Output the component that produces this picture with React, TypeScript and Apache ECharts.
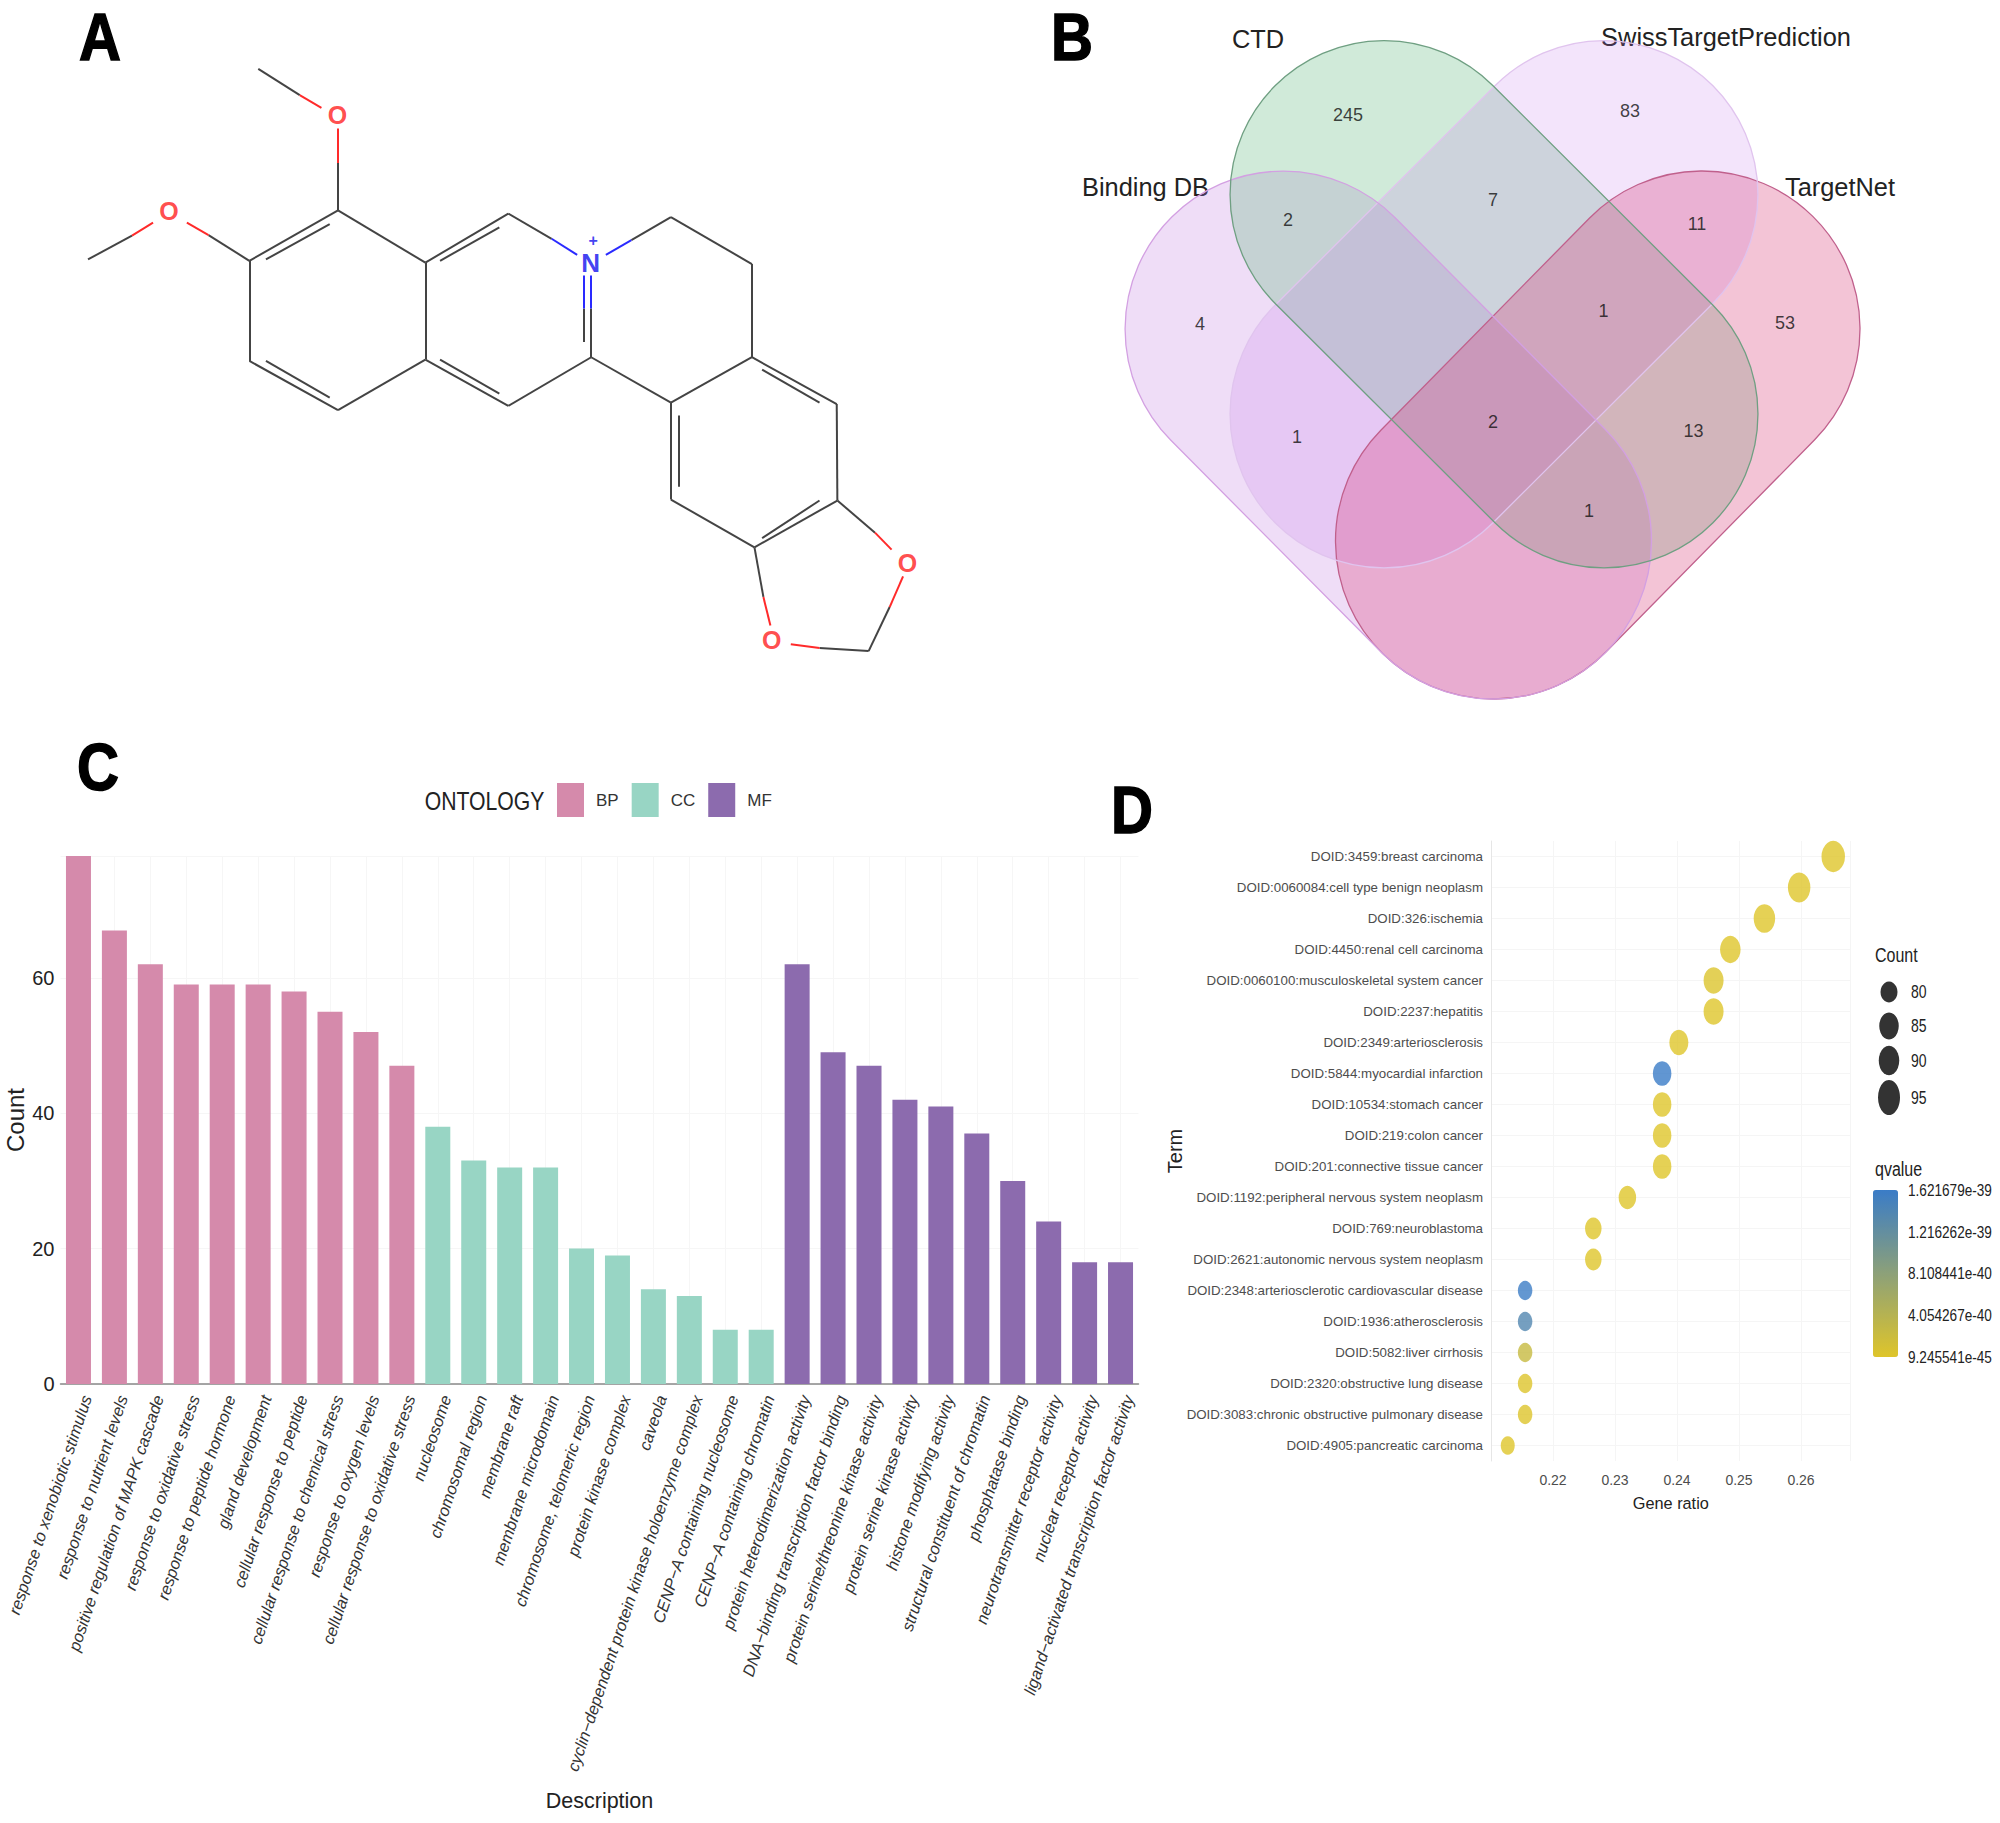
import React, { useEffect, useRef } from "react";
import * as echarts from "echarts";

// ---------- Panel C ----------
const goTerms = [
  "response to xenobiotic stimulus", "response to nutrient levels", "positive regulation of MAPK cascade",
  "response to oxidative stress", "response to peptide hormone", "gland development",
  "cellular response to peptide", "cellular response to chemical stress", "response to oxygen levels",
  "cellular response to oxidative stress", "nucleosome", "chromosomal region", "membrane raft",
  "membrane microdomain", "chromosome, telomeric region", "protein kinase complex", "caveola",
  "cyclin−dependent protein kinase holoenzyme complex", "CENP−A containing nucleosome",
  "CENP−A containing chromatin", "protein heterodimerization activity", "DNA−binding transcription factor binding",
  "protein serine/threonine kinase activity", "protein serine kinase activity", "histone modifying activity",
  "structural constituent of chromatin", "phosphatase binding", "neurotransmitter receptor activity",
  "nuclear receptor activity", "ligand−activated transcription factor activity",
];
const bpCounts = [78, 67, 62, 59, 59, 59, 58, 55, 52, 47];
const ccCounts = [38, 33, 32, 32, 20, 19, 14, 13, 8, 8];
const mfCounts = [62, 49, 47, 42, 41, 37, 30, 24, 18, 18];
const ontologyNames = ["BP", "CC", "MF"];
const ontologyColors = ["#d58aab", "#98d5c4", "#8c6bae"];

// ---------- Panel D ----------
const doidTerms = [
  "DOID:3459:breast carcinoma", "DOID:0060084:cell type benign neoplasm", "DOID:326:ischemia",
  "DOID:4450:renal cell carcinoma", "DOID:0060100:musculoskeletal system cancer", "DOID:2237:hepatitis",
  "DOID:2349:arteriosclerosis", "DOID:5844:myocardial infarction", "DOID:10534:stomach cancer",
  "DOID:219:colon cancer", "DOID:201:connective tissue cancer", "DOID:1192:peripheral nervous system neoplasm",
  "DOID:769:neuroblastoma", "DOID:2621:autonomic nervous system neoplasm",
  "DOID:2348:arteriosclerotic cardiovascular disease", "DOID:1936:atherosclerosis", "DOID:5082:liver cirrhosis",
  "DOID:2320:obstructive lung disease", "DOID:3083:chronic obstructive pulmonary disease", "DOID:4905:pancreatic carcinoma",
];
const doidRatio = [0.2652, 0.2597, 0.2541, 0.2486, 0.2459, 0.2459, 0.2403, 0.2376, 0.2376, 0.2376, 0.2376, 0.232, 0.2265, 0.2265, 0.2155, 0.2155, 0.2155, 0.2155, 0.2155, 0.2127];
const doidCount = [96, 94, 92, 90, 89, 89, 87, 86, 86, 86, 86, 84, 82, 82, 78, 78, 78, 78, 78, 77];
const doidQ = [1e-44, 1e-44, 1e-44, 1e-44, 3e-41, 1e-44, 1e-44, 1.62e-39, 1e-44, 1e-44, 1e-44, 1e-44, 1e-44, 1e-44, 1.6e-39, 1.38e-39, 2.4e-40, 2e-41, 2e-41, 1e-44];
const countLegendValues = [80, 85, 90, 95];
const countLegendY = [992, 1026, 1060.6, 1097.5];
const countLegendSizes = [[17, 21], [19.5, 27], [20.5, 29.5], [22, 35]];
const qvalueTicks = ["1.621679e-39", "1.216262e-39", "8.108441e-40", "4.054267e-40", "9.245541e-45"];
const qvalueTickY = [1190, 1232, 1273, 1315, 1357];

// ---------- Panel B ----------
const vennSets = ["Binding DB", "CTD", "SwissTargetPrediction", "TargetNet"];
const vennLabelPos = [[1145.5, 187], [1258, 39], [1726, 37], [1840, 187]];
const vennCapsules = [[1283, 329, 1493.5, 541, 158], [1384, 194.5, 1604, 414, 154], [1604, 194.5, 1384, 414, 154], [1702, 329, 1493.5, 541, 158]];
const vennFill = ["rgba(190,120,225,0.25)", "rgba(100,185,130,0.3)", "rgba(195,120,235,0.2)", "rgba(215,60,120,0.3)"];
const vennStroke = ["#d3a0e2", "#6f9f82", "#e0c4ee", "#c0608c"];
const vennStrokeOrder = [3, 2, 0, 1];
const vennCounts = [245, 83, 7, 2, 11, 4, 1, 53, 1, 2, 13, 1];
const vennCountPos = [[1348, 115], [1630, 111], [1493, 200], [1288, 220], [1697, 223.5], [1200, 324], [1603.5, 311], [1785, 323], [1297, 437], [1493, 422], [1693.5, 431], [1589, 511]];

// ---------- Panel A ----------
const darkBonds = [
  [405, 150, 470, 207], [530, 355, 530, 458], [138, 565, 207, 513], [327, 512, 391, 568], [530, 458, 391, 568],
  [417, 565, 517, 488], [391, 568, 391, 786], [391, 786, 530, 893], [417, 786, 517, 866], [530, 893, 667, 783],
  [667, 783, 667, 572], [667, 572, 530, 458], [667, 572, 797, 465], [690, 568, 783, 495], [797, 465, 865, 520],
  [667, 783, 797, 884], [690, 783, 783, 857], [797, 884, 927, 778], [915, 672, 915, 745], [927, 672, 927, 778],
  [990, 523, 1052, 473], [1052, 473, 1179, 575], [1179, 575, 1179, 778], [927, 778, 1052, 877], [1052, 877, 1179, 778],
  [1179, 778, 1312, 880], [1195, 805, 1285, 877], [1312, 880, 1313, 1090], [1313, 1090, 1183, 1192], [1285, 1090, 1195, 1172],
  [1183, 1192, 1052, 1088], [1052, 1088, 1052, 877], [1064, 1060, 1064, 905], [1313, 1090, 1372, 1160], [1183, 1192, 1197, 1300],
  [1395, 1322, 1362, 1418], [1285, 1411, 1362, 1418],
];
const redBonds = [
  [470, 207, 504, 235], [530, 280, 530, 355], [207, 513, 240, 485], [293, 485, 327, 512],
  [1372, 1160, 1398, 1197], [1416, 1255, 1395, 1322], [1197, 1300, 1208, 1362], [1240, 1403, 1285, 1411],
];
const blueBonds = [[865, 520, 905, 555], [950, 555, 990, 523], [915, 600, 915, 672], [927, 600, 927, 672]];
const oxygenAtoms = [[529, 250], [265, 460], [1423, 1225], [1210, 1393]];
const nitrogenAtom = [[926, 572]];
const chargeMark = [[930, 524]];

const panelLetters = [["A", 100, 37], ["B", 1072, 37], ["C", 98, 767], ["D", 1132, 810]];
const SANS = "'Liberation Sans', Arial, sans-serif";

const toLines = (rows: number[][]) => rows.map((r) => ({ coords: [[r[0], r[1]], [r[2], r[3]]] }));
const dotSize = (c: number) => { const w = 14 + (c - 77) * 0.5; return [w, w * 1.33]; };

const hiddenAxis = (gridIndex: number, min: number, max: number, inverse = false) => ({
  type: "value", gridIndex, min, max, inverse, show: false,
});

function capsulePath(api: any) {
  const a = api.coord([api.value(0), api.value(1)]);
  const b = api.coord([api.value(2), api.value(3)]);
  const r = api.size([api.value(4), 0])[0];
  const len = Math.hypot(b[0] - a[0], b[1] - a[1]);
  const dx = (b[0] - a[0]) / len, dy = (b[1] - a[1]) / len;
  const nx = -dy * r, ny = dx * r;
  return `M${a[0] + nx} ${a[1] + ny}L${b[0] + nx} ${b[1] + ny}A${r} ${r} 0 0 0 ${b[0] - nx} ${b[1] - ny}L${a[0] - nx} ${a[1] - ny}A${r} ${r} 0 0 0 ${a[0] + nx} ${a[1] + ny}Z`;
}

function buildOption(): any {
  const pad = (n: number) => new Array(n).fill(null);
  const bondSeries = (rows: number[][], color: string) => ({
    type: "lines", coordinateSystem: "cartesian2d", xAxisIndex: 0, yAxisIndex: 0, silent: true,
    polyline: false, data: toLines(rows), lineStyle: { color, width: 2, opacity: 1 }, symbol: "none",
  });
  const atomSeries = (pts: number[][], text: string, color: string, size: number, weight: any) => ({
    type: "scatter", xAxisIndex: 0, yAxisIndex: 0, silent: true, data: pts, symbolSize: 1,
    itemStyle: { color: "transparent" },
    label: { show: true, position: "inside", formatter: text, color, fontSize: size, fontWeight: weight, fontFamily: SANS },
  });
  const graphicTexts: any[] = [];
  const txt = (text: string, x: number, y: number, fontSize: number, opt: any = {}, scaleY = 1, scaleX = 1) =>
    graphicTexts.push({
      type: "text", x, y, scaleX, scaleY, silent: true,
      style: { text, fontSize, fontFamily: SANS, fill: "#222", align: "center", verticalAlign: "middle", ...opt },
    });
  panelLetters.forEach(([t, x, y]) => txt(t as string, x as number, y as number, 66, { fontWeight: 700, fill: "#000", stroke: "#000", lineWidth: 1.5 }, 1, 0.88));
  vennSets.forEach((s, i) => txt(s, vennLabelPos[i][0], vennLabelPos[i][1], 25.4, {}));
  txt("ONTOLOGY", 484.5, 801, 21.2, {}, 1.25);
  txt("Count", 1875, 955, 16, { align: "left" }, 1.25);
  txt("qvalue", 1875, 1169, 16, { align: "left" }, 1.25);
  countLegendValues.forEach((v, i) => txt(String(v), 1911, countLegendY[i], 14, { align: "left" }, 1.25));
  qvalueTicks.forEach((v, i) => txt(v, 1908, qvalueTickY[i], 13.6, { align: "left" }, 1.2));

  const gridBase = { outerBoundsMode: "none", containLabel: false };
  const grid = [
    { ...gridBase, left: 0, top: 0, width: 1000, height: 720 },
    { ...gridBase, left: 0, top: 0, width: 2000, height: 1823 },
    { ...gridBase, left: 60.5, top: 856, width: 1078, height: 528 },
    { ...gridBase, left: 1491, top: 841, width: 359.6, height: 620 },
  ];
  const xAxis = [
    hiddenAxis(0, 0, 1568),
    hiddenAxis(1, 0, 2000),
    {
      type: "category", gridIndex: 2, data: goTerms,
      name: "Description", nameLocation: "middle", nameGap: 406, nameMoveOverlap: false,
      nameTextStyle: { fontSize: 21.5, fontFamily: SANS, color: "#222" },
      axisLine: { lineStyle: { color: "#888", width: 1.5 } },
      axisTick: { alignWithLabel: true, length: 4, lineStyle: { color: "#aaa" }, interval: 0 },
      splitLine: { show: true, alignWithLabel: true, interval: 0, lineStyle: { color: "#f6f6f6" } },
      axisLabel: { interval: 0, rotate: 71.5, margin: 9, fontSize: 16.5, fontStyle: "italic", fontFamily: SANS, color: "#333", verticalAlign: "top", hideOverlap: false },
    },
    {
      type: "value", gridIndex: 3, min: 0.21, max: 0.268, interval: 0.01,
      name: "Gene ratio", nameLocation: "middle", nameGap: 34, nameMoveOverlap: false,
      nameTextStyle: { fontSize: 16.3, fontFamily: SANS, color: "#222" },
      axisLine: { show: false }, axisTick: { show: false },
      splitLine: { show: true, lineStyle: { color: "#f5f5f5" } },
      axisLabel: { showMinLabel: false, showMaxLabel: false, margin: 12, fontSize: 14, fontFamily: SANS, color: "#4d4d4d", formatter: (v: number) => v.toFixed(2) },
    },
  ];
  const yAxis = [
    hiddenAxis(0, 0, 1568, true),
    hiddenAxis(1, 0, 1823, true),
    {
      type: "value", gridIndex: 2, min: 0, max: 78, interval: 20,
      name: "Count", nameLocation: "middle", nameGap: 33, nameMoveOverlap: false,
      nameTextStyle: { fontSize: 24, fontFamily: SANS, color: "#222" },
      axisLine: { show: false }, axisTick: { show: false },
      splitLine: { show: true, lineStyle: { color: "#f6f6f6" } },
      axisLabel: { showMaxLabel: false, fontSize: 20, margin: 6, fontFamily: SANS, color: "#222" },
    },
    {
      type: "category", gridIndex: 3, data: doidTerms, inverse: true,
      name: "Term", nameLocation: "middle", nameGap: 306, nameMoveOverlap: false,
      nameTextStyle: { fontSize: 20, fontFamily: SANS, color: "#222" },
      axisLine: { show: true, lineStyle: { color: "#e6e6e6" } },
      axisTick: { alignWithLabel: true, length: 4, lineStyle: { color: "#999" }, interval: 0 },
      splitLine: { show: true, alignWithLabel: true, interval: 0, lineStyle: { color: "#f5f5f5" } },
      axisLabel: { interval: 0, margin: 8, fontSize: 13.3, fontFamily: SANS, color: "#4d4d4d" },
    },
  ];
  const barItem = (i: number) => ({
    name: ontologyNames[i], type: "bar", stack: "go", xAxisIndex: 2, yAxisIndex: 2, barWidth: 25,
    itemStyle: { color: ontologyColors[i] },
  });
  const series: any[] = [
    bondSeries(darkBonds, "#444444"),
    bondSeries(redBonds, "#ff2a2a"),
    bondSeries(blueBonds, "#2a2aff"),
    atomSeries(oxygenAtoms, "O", "#ff2020", 25, 700),
    atomSeries(nitrogenAtom, "N", "#1010ee", 26, 700),
    atomSeries(chargeMark, "+", "#1010ee", 16, 700),
    {
      type: "custom", xAxisIndex: 1, yAxisIndex: 1, silent: true, data: vennCapsules,
      renderItem: (params: any, api: any) => ({
        type: "path", shape: { pathData: capsulePath(api) },
        style: { fill: vennFill[params.dataIndex], stroke: "none" },
      }),
    },
    {
      type: "custom", xAxisIndex: 1, yAxisIndex: 1, silent: true, data: vennStrokeOrder.map((i) => vennCapsules[i]),
      renderItem: (params: any, api: any) => ({
        type: "path", shape: { pathData: capsulePath(api) },
        style: { fill: "none", stroke: vennStroke[vennStrokeOrder[params.dataIndex]], lineWidth: 1.3 },
      }),
    },
    {
      type: "scatter", xAxisIndex: 1, yAxisIndex: 1, silent: true, symbolSize: 1, z: 5,
      itemStyle: { color: "transparent" },
      data: vennCounts.map((c, i) => [vennCountPos[i][0], vennCountPos[i][1], c]),
      label: { show: true, position: "inside", formatter: (p: any) => String(p.value[2]), fontSize: 18, color: "#111", fontFamily: SANS },
    },
    { ...barItem(0), data: [...bpCounts, ...pad(20)] },
    { ...barItem(1), data: [...pad(10), ...ccCounts, ...pad(10)] },
    { ...barItem(2), data: [...pad(20), ...mfCounts] },
    {
      name: "Term dots", type: "scatter", xAxisIndex: 3, yAxisIndex: 3, silent: true,
      data: doidTerms.map((t, i) => [doidRatio[i], t, doidCount[i], doidQ[i]]),
      symbolSize: (v: any[]) => dotSize(v[2]),
    },
    {
      name: "Count legend", type: "scatter", xAxisIndex: 1, yAxisIndex: 1, silent: true,
      data: countLegendValues.map((c, i) => [1889, countLegendY[i], i]),
      symbolSize: (v: any[]) => countLegendSizes[v[2]],
      itemStyle: { color: "#000" },
    },
  ];
  return {
    animation: false,
    backgroundColor: "#ffffff",
    grid, xAxis, yAxis, series,
    legend: {
      data: ontologyNames, left: 552, top: 778, itemWidth: 27, itemHeight: 34, itemGap: 13, icon: "rect", selectedMode: false,
      textStyle: { fontSize: 17, fontFamily: SANS, color: "#333", padding: [0, 0, 0, 7] },
    },
    visualMap: {
      type: "continuous", seriesIndex: 12, dimension: 3, min: 9.245541e-45, max: 1.621679e-39,
      left: 1858, top: 1175, itemWidth: 25, itemHeight: 167, calculable: false, hoverLink: false, text: [],
      inRange: { color: ["#dfc52a", "#3a7cc7"] },
    },
    graphic: graphicTexts,
  };
}

export default function App() {
  const ref = useRef<HTMLDivElement>(null);
  useEffect(() => {
    const chart = echarts.init(ref.current!, undefined, { renderer: "svg" });
    chart.setOption(buildOption());
    return () => chart.dispose();
  }, []);
  return <div ref={ref} style={{ position: "absolute", left: 0, top: 0, width: 2000, height: 1823 }} />;
}
